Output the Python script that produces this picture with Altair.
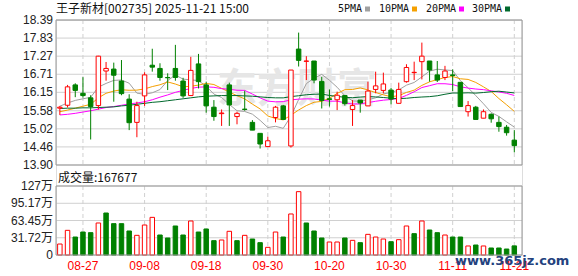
import altair as alt
import pandas as pd

# ---------------- data ----------------
dates = ["08-22", "08-25", "08-26", "08-27", "08-28", "08-29", "09-01", "09-02", "09-03", "09-04",
         "09-05", "09-08", "09-09", "09-10", "09-11", "09-12", "09-15", "09-16", "09-17", "09-18",
         "09-19", "09-22", "09-23", "09-24", "09-25", "09-26", "09-29", "09-30", "10-09", "10-10",
         "10-13", "10-14", "10-15", "10-16", "10-17", "10-20", "10-21", "10-22", "10-23", "10-24",
         "10-27", "10-28", "10-29", "10-30", "10-31", "11-03", "11-04", "11-05", "11-06", "11-07",
         "11-10", "11-11", "11-12", "11-13", "11-14", "11-17", "11-18", "11-19", "11-20", "11-21"]

opens = [15.66, 15.75, 16.38, 16.12, 15.98, 15.74, 16.81, 16.87, 16.50, 15.94,
         15.22, 16.04, 16.99, 16.89, 16.61, 16.89, 16.50, 16.05, 17.03, 16.38,
         15.69, 15.49, 16.38, 15.40, 15.63, 15.22, 14.88, 14.47, 15.37, 15.73,
         14.49, 17.49, 17.11, 17.12, 16.49, 15.95, 15.92, 16.05, 15.62, 15.91,
         15.73, 16.24, 16.21, 16.22, 15.81, 16.48, 16.76, 17.10, 17.12, 16.69,
         16.61, 16.69, 16.46, 15.55, 15.69, 15.35, 15.47, 15.22, 15.07, 14.67]
highs = [15.73, 16.38, 16.43, 16.62, 16.06, 17.28, 17.09, 17.07, 17.15, 16.09,
         15.86, 16.77, 17.50, 17.05, 16.74, 17.62, 16.60, 17.25, 17.34, 16.48,
         15.91, 15.62, 16.45, 15.55, 16.20, 15.29, 14.88, 14.78, 15.73, 15.76,
         16.84, 18.00, 17.27, 17.12, 16.63, 16.24, 16.17, 16.07, 15.91, 15.91,
         16.48, 16.79, 16.76, 16.29, 16.45, 17.02, 17.10, 17.69, 17.12, 17.12,
         16.97, 16.86, 16.46, 15.88, 15.73, 15.62, 15.50, 15.40, 15.14, 14.98]
lows = [15.45, 15.68, 16.00, 15.99, 14.69, 15.62, 16.51, 15.86, 16.06, 14.98,
        14.76, 15.73, 16.79, 16.51, 16.22, 16.51, 15.98, 16.04, 16.27, 15.52,
        15.27, 15.11, 15.11, 15.16, 15.58, 14.98, 14.41, 14.47, 15.22, 15.31,
        14.44, 16.95, 16.53, 16.43, 15.65, 15.71, 15.60, 15.74, 15.11, 15.52,
        15.73, 16.12, 16.12, 15.78, 15.81, 16.45, 16.53, 16.55, 16.48, 16.47,
        16.53, 16.19, 15.71, 15.40, 15.31, 15.35, 15.21, 14.93, 14.81, 14.29]
closes = [15.69, 16.32, 16.21, 16.05, 15.71, 17.27, 16.89, 16.68, 16.11, 15.21,
          15.74, 16.69, 16.93, 16.61, 16.60, 16.61, 16.04, 16.83, 16.48, 15.73,
          15.40, 15.51, 15.76, 15.50, 15.62, 14.98, 14.55, 14.65, 15.69, 15.31,
          16.84, 17.14, 17.12, 16.53, 15.90, 15.93, 16.06, 15.80, 15.74, 15.82,
          16.19, 16.35, 16.41, 15.94, 16.24, 16.92, 16.77, 17.27, 16.84, 16.53,
          16.81, 16.67, 15.71, 15.74, 15.31, 15.55, 15.33, 15.09, 14.90, 14.50]
# volume in 万 (10k) lots
volumes = [20.2, 45.4, 33.1, 42.3, 41.1, 58.9, 77.3, 57.7, 57.7, 44.2,
           36.2, 55.2, 69.3, 36.8, 31.3, 53.4, 36.8, 62.6, 42.3, 47.9,
           26.4, 27.6, 43.6, 26.4, 36.2, 29.4, 22.7, 14.1, 42.3, 33.1,
           75.5, 116.6, 58.9, 44.2, 31.3, 23.9, 23.9, 31.3, 27.0, 22.7,
           38.0, 33.1, 29.4, 24.5, 28.2, 53.4, 39.3, 62.6, 46.0, 41.1,
           36.8, 33.1, 33.1, 16.6, 18.4, 16.6, 12.9, 12.9, 11.0, 16.77]
# 1 = red (up) volume bar, 0 = green (down) volume bar
vol_up = [1, 1, 0, 0, 0, 1, 0, 0, 0, 0,
          1, 1, 1, 0, 0, 0, 0, 1, 0, 0,
          0, 1, 1, 0, 1, 0, 0, 1, 1, 0,
          1, 1, 0, 0, 0, 1, 1, 0, 1, 0,
          1, 1, 1, 0, 1, 1, 0, 1, 0, 0,
          1, 0, 0, 1, 0, 1, 0, 0, 0, 0]

# moving-average values before a full window is visible
ma5_head = [15.72, 15.82, 15.90, 15.95]
ma10_head = [15.55, 15.60, 15.66, 15.72, 15.78, 15.98, 16.12, 16.19, 16.23]
ma20_head = [15.45, 15.47, 15.50, 15.54, 15.58, 15.63, 15.68, 15.71, 15.75, 15.79,
             15.82, 15.86, 15.92, 16.00, 16.07, 16.15, 16.21, 16.27, 16.31]
ma30_head = [15.65, 15.66, 15.66, 15.67, 15.67, 15.68, 15.69, 15.70, 15.73, 15.75,
             15.78, 15.81, 15.84, 15.86, 15.89, 15.92, 15.95, 15.98, 16.01, 16.03,
             16.04, 16.05, 16.05, 16.05, 16.04, 16.03, 16.01, 15.99, 15.98]

price_ticks = [13.90, 14.46, 15.02, 15.58, 16.15, 16.71, 17.27, 17.83, 18.39]
price_tick_labels = ["13.90", "14.46", "15.02", "15.58", "16.15", "16.71", "17.27", "17.83", "18.39"]
vol_ticks = [0, 31.72, 63.45, 95.17, 127]
vol_tick_labels = ["0", "31.72万", "63.45万", "95.17万", "127万"]
date_ticks = ["08-27", "09-08", "09-18", "09-30", "10-20", "10-30", "11-11", "11-21"]

legend_labels = ["5PMA", "10PMA", "20PMA", "30PMA"]
legend_colors = ["#a0a0a0", "#f5a000", "#ff00ff", "#00692d"]
title_text = "王子新材[002735] 2025-11-21 15:00"
vol_title = "成交量:167677"
watermark = "东方财富"
site_mark = "www.365jz.com"

# ---------------- build table ----------------
s = pd.Series(closes)
ma5 = ma5_head + s.rolling(5).mean().tolist()[4:]
ma10 = ma10_head + s.rolling(10).mean().tolist()[9:]
ma20 = ma20_head + s.rolling(20).mean().tolist()[19:]
ma30 = ma30_head + s.rolling(30).mean().tolist()[29:]

df = pd.DataFrame({
    "i": list(range(len(dates))), "date": dates,
    "open": opens, "high": highs, "low": lows, "close": closes,
    "vol": volumes, "vup": vol_up,
    "ma5": ma5, "ma10": ma10, "ma20": ma20, "ma30": ma30,
})
df["x0"] = df["i"] - 0.29
df["x1"] = df["i"] + 0.29
df["zero"] = 0.0

# ---------------- layout constants ----------------
W = 466
PH = 145          # price panel height
VT, VB = 166, 235  # volume panel top / bottom
RED, GREEN = "#ff0000", "#008000"
GRID = "#d0d0d0"
BORDER = "#999999"
NUM_FONT = "Liberation Sans, Noto Sans CJK SC"
CJK_FONT = "Noto Sans CJK SC"

xs = alt.Scale(domain=[-0.5, 60], nice=False, zero=False)
ps = alt.Scale(domain=[13.90, 18.39], range=[PH, 0], nice=False, zero=False)
vs = alt.Scale(domain=[0, 127], range=[VB, VT], nice=False, zero=False)

base = alt.Chart(df)
X = alt.X("i:Q", scale=xs, axis=None)

layers = []

# horizontal grids
pt = pd.DataFrame({"v": price_ticks, "lab": price_tick_labels})
vt = pd.DataFrame({"v": vol_ticks, "lab": vol_tick_labels})
layers.append(alt.Chart(pt).mark_rule(color=GRID, strokeWidth=1).encode(
    y=alt.Y("v:Q", scale=ps, axis=None), x=alt.value(0), x2=alt.value(W)))
layers.append(alt.Chart(vt).mark_rule(color=GRID, strokeWidth=1).encode(
    y=alt.Y("v:Q", scale=vs, axis=None), x=alt.value(0), x2=alt.value(W)))

# vertical dashed date grid
dt = pd.DataFrame({"d": date_ticks, "i": [dates.index(d) for d in date_ticks]})
layers.append(alt.Chart(dt).mark_rule(color=GRID, strokeDash=[4, 3], strokeWidth=1).encode(
    x=alt.X("i:Q", scale=xs, axis=None), y=alt.value(0), y2=alt.value(PH)))
layers.append(alt.Chart(dt).mark_rule(color=GRID, strokeDash=[4, 3], strokeWidth=1).encode(
    x=alt.X("i:Q", scale=xs, axis=None), y=alt.value(VT), y2=alt.value(VB)))

# faint watermark
layers.append(alt.Chart(pd.DataFrame({"t": [watermark]})).mark_text(
    font=CJK_FONT, fontSize=40, fontWeight="bold", color="#e6e6e6", align="center",
    baseline="middle").encode(x=alt.value(241), y=alt.value(70), text="t:N"))

# moving averages
for col, c in zip(["ma5", "ma10", "ma20", "ma30"], legend_colors):
    layers.append(base.mark_line(color=c, strokeWidth=1).encode(
        x=X, y=alt.Y(f"{col}:Q", scale=ps, axis=None)))

up = "datum.close >= datum.open"
# wicks
layers.append(base.mark_rule(strokeWidth=1).encode(
    x=X, y=alt.Y("low:Q", scale=ps, axis=None), y2="high:Q",
    color=alt.condition(up, alt.value(RED), alt.value(GREEN))))
# bodies
layers.append(base.mark_rect(strokeWidth=1).encode(
    x=alt.X("x0:Q", scale=xs, axis=None), x2="x1:Q",
    y=alt.Y("open:Q", scale=ps, axis=None), y2="close:Q",
    fill=alt.condition(up, alt.value("#ffffff"), alt.value(GREEN)),
    stroke=alt.condition(up, alt.value(RED), alt.value(GREEN))))

# volume bars
vup = "datum.vup == 1"
layers.append(base.mark_rect(strokeWidth=1).encode(
    x=alt.X("x0:Q", scale=xs, axis=None), x2="x1:Q",
    y=alt.Y("vol:Q", scale=vs, axis=None), y2="zero:Q",
    fill=alt.condition(vup, alt.value("#ffffff"), alt.value(GREEN)),
    stroke=alt.condition(vup, alt.value(RED), alt.value(GREEN))))

# panel borders
frame = pd.DataFrame({"k": [0]})
layers.append(alt.Chart(frame).mark_rect(fill=None, stroke=BORDER, strokeWidth=1).encode(
    x=alt.value(0), x2=alt.value(W), y=alt.value(0), y2=alt.value(PH)))
layers.append(alt.Chart(frame).mark_rect(fill=None, stroke=BORDER, strokeWidth=1).encode(
    x=alt.value(0), x2=alt.value(W), y=alt.value(VT), y2=alt.value(VB)))

# axis labels
layers.append(alt.Chart(pt).mark_text(font=NUM_FONT, fontSize=12, color="#222222",
                                      align="right", baseline="middle").encode(
    x=alt.value(-3), y=alt.Y("v:Q", scale=ps, axis=None), text="lab:N"))
layers.append(alt.Chart(vt).mark_text(font=NUM_FONT, fontSize=12, color="#222222",
                                      align="right", baseline="middle").encode(
    x=alt.value(-3), y=alt.Y("v:Q", scale=vs, axis=None), text="lab:N"))
layers.append(alt.Chart(dt).mark_text(font=NUM_FONT, fontSize=12, color=RED,
                                      align="center", baseline="middle").encode(
    x=alt.X("i:Q", scale=xs, axis=None), y=alt.value(VB + 11), text="d:N"))

# titles
layers.append(alt.Chart(pd.DataFrame({"t": [title_text]})).mark_text(
    font=CJK_FONT, fontSize=12, color="#111111", align="left", baseline="middle").encode(
    x=alt.value(0), y=alt.value(-11), text="t:N"))
layers.append(alt.Chart(pd.DataFrame({"t": [vol_title]})).mark_text(
    font=CJK_FONT, fontSize=12, color="#111111", align="left", baseline="middle").encode(
    x=alt.value(2), y=alt.value(VT - 8), text="t:N"))

# legend (text + colour square)
leg_x = [282, 323, 370, 416]
leg = pd.DataFrame({
    "lab": legend_labels, "col": legend_colors, "tx": leg_x,
    "sx": [x + 6 * len(l) + 5.5 for x, l in zip(leg_x, legend_labels)],
})
layers.append(alt.Chart(leg).mark_text(font="DejaVu Sans Mono", fontSize=10, color="#111111",
                                       align="left", baseline="middle").encode(
    x=alt.X("tx:Q", scale=None), y=alt.value(-11), text="lab:N"))
layers.append(alt.Chart(leg).mark_square(size=25, opacity=1).encode(
    x=alt.X("sx:Q", scale=None), y=alt.value(-11),
    color=alt.Color("col:N", scale=None)))

# site watermark
layers.append(alt.Chart(pd.DataFrame({"t": [site_mark]})).mark_text(
    font="DejaVu Sans", fontSize=13, fontWeight="bold", color="#24427e", align="left",
    baseline="alphabetic").encode(x=alt.value(399), y=alt.value(245), text="t:N"))

chart = alt.layer(*layers).resolve_scale(y="independent").properties(
    width=W, height=VB,
    autosize=alt.AutoSizeParams(type="none"),
    padding={"left": 56, "top": 20, "right": 56, "bottom": 21},
).configure_view(strokeWidth=0).configure(background="#ffffff")

chart.save("out.html", embed_options={"renderer": "svg", "actions": False})
